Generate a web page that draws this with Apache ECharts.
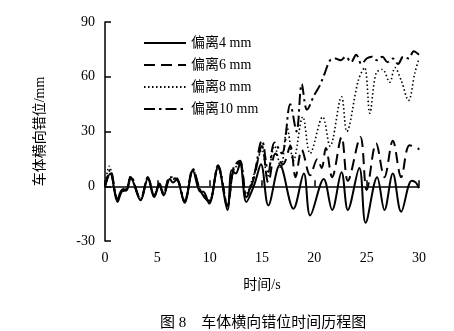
<!DOCTYPE html>
<html><head><meta charset="utf-8">
<script src="https://cdn.jsdelivr.net/npm/echarts@6/dist/echarts.min.js"></script>
<style>html,body{margin:0;padding:0;background:#fff}#c{width:454px;height:331px}</style>
</head><body><div id="c"></div>
<script>
const names = ['偏离4 mm','偏离6 mm','偏离8 mm','偏离10 mm'];
const xTicks = [0,5,10,15,20,25,30];
const yTicks = [-30,0,30,60,90];

const t4 = [0,0.5,1.2,1.6,2.1,2.45,3.4,4.1,4.7,5.2,5.6,6.2,6.5,6.85,7.6,8.4,9.1,9.4,9.95,10.8,11.7,12.1,12.5,12.9,13.5,14.3,14.9,15.6,16.7,18.0,19.0,19.6,20.9,21.7,22.6,23.2,24.3,24.9,26.0,26.7,27.5,28.3,29.3,29.7,30];
const v4 = [0,7,-8.6,-3,-2,4.5,-7.7,4.2,-5.9,0.5,-5,4,2,3.7,-9,8.5,-3,-3,-9.5,10.5,-13,8.8,7,12.5,-8.6,1.5,12,-10.5,11.6,-12.3,7,-16,4,-13,7.7,-13,10,-20,5,-13,7,-14,3,2,-1];

const t6 = [0,0.5,1.2,1.6,2.1,2.45,3.4,4.1,4.7,5.2,5.6,6.2,6.85,7.6,8.4,9.1,9.95,10.8,11.7,12.3,12.9,13.5,14.2,15.0,15.6,16.3,17.0,17.7,18.2,18.8,19.6,20.3,20.7,21.1,21.7,22.6,23.2,24.4,25.0,25.9,26.7,27.5,28.3,29.1,29.9,30];
const v6 = [0,8,-7.5,-2,-1.5,5,-7,5,-5,1,-4.5,4.5,4,-8.5,9,-2.5,-8.5,11,-11,10,13,-6,4,22,2,18,12,22,5,20,6,15,10,21,5,27,3,27,-2,23.5,5,25,5,22.5,20.7,20];

const t8 = [0,0.4,1.2,1.6,2.1,2.45,3.4,4.1,4.7,5.2,5.6,6.2,6.85,7.6,8.4,9.1,9.95,10.8,11.7,12.3,12.9,13.5,14.2,15.0,15.5,16.2,16.8,17.4,18.0,18.9,19.6,20.8,21.5,22.6,23.1,24.2,24.8,25.3,25.9,26.5,27.2,27.7,28.3,29.0,29.6,30];
const v8 = [0,11,-8,-2.5,-1,5,-7.5,4.5,-5.5,1,-5,4,3.5,-8.5,9,-2,-8,10,-10,9,12,-4,6,20,5,22,10,32,14,38,18,38,22,49,30,58,65,40,62,64,57,65,58,47,62,70];

const t10 = [0,0.5,1.2,1.6,2.1,2.45,3.4,4.1,4.7,5.2,5.6,6.2,6.85,7.6,8.4,9.1,9.95,10.8,11.7,12.3,12.9,13.5,14.2,15.0,15.6,16.2,16.9,17.7,18.3,18.8,19.3,20.0,20.5,21.0,21.5,22.0,22.5,23.0,23.5,24.0,24.5,25.0,25.5,26.0,26.5,27.0,27.5,28.0,28.5,29.0,29.5,30];
const v10 = [0,9,-7,-2,-1,5.5,-7,5,-5,1.5,-4,5,4.5,-8,9.5,-2,-8,11.5,-10,10.5,14,-5,5,25,8,24,18,45,30,56,42,50,55,62,69,70,69,71,68,72,67,70,71,69,71,68,70,67,71,70,74,72];

const pair = (t, v) => t.map((x, i) => [x, v[i]]);
const serif = '"Liberation Serif","Noto Sans CJK SC",serif';
const styles = [
  {type:'solid', width:2},
  {type:[11,6], width:2},
  {type:[1.5,2.5], width:1.6},
  {type:[11,4,2.5,4], width:2}
];
const series = [[t4,v4],[t6,v6],[t8,v8],[t10,v10]].map((d, i) => ({
  name: names[i], type: 'line', data: pair(d[0], d[1]), showSymbol: false, symbol: 'none',
  smooth: 0.35, lineStyle: Object.assign({color:'#000'}, styles[i]), itemStyle:{color:'#000'}
}));

const chart = echarts.init(document.getElementById('c'), null, {renderer:'canvas'});
chart.setOption({
  animation: false,
  backgroundColor: '#fff',
  grid: {left:105, right:35, top:22, bottom:90},
  title: {text:'图 8    车体横向错位时间历程图', left:155, top:311,
    textStyle:{fontFamily:serif, fontSize:15, fontWeight:'normal', color:'#000'}},
  legend: {orient:'vertical', left:138, top:31, itemWidth:42, itemHeight:12, itemGap:8,
    itemStyle:{color:'rgba(0,0,0,0)', borderWidth:0, opacity:0},
    textStyle:{fontFamily:serif, fontSize:14, color:'#000'},
    data: names},
  xAxis: {type:'value', min:xTicks[0], max:xTicks[xTicks.length-1], interval:5,
    name:'时间/s', nameLocation:'middle', nameGap:37,
    nameTextStyle:{fontFamily:serif, fontSize:14, color:'#000'},
    axisLine:{lineStyle:{color:'#000', width:1.5}},
    axisTick:{inside:true, length:6, lineStyle:{color:'#000', width:1.5}},
    axisLabel:{margin:10, fontFamily:serif, fontSize:14, color:'#000'},
    splitLine:{show:false}},
  yAxis: {type:'value', min:yTicks[0], max:yTicks[yTicks.length-1], interval:30,
    name:'车体横向错位/mm', nameLocation:'middle', nameGap:58,
    nameTextStyle:{fontFamily:serif, fontSize:14, color:'#000'},
    axisLine:{show:true, lineStyle:{color:'#000', width:1.5}},
    axisTick:{show:true, inside:true, length:6, lineStyle:{color:'#000', width:1.5}},
    axisLabel:{margin:10, fontFamily:serif, fontSize:14, color:'#000'},
    splitLine:{show:false}},
  series: series
});
</script></body></html>
